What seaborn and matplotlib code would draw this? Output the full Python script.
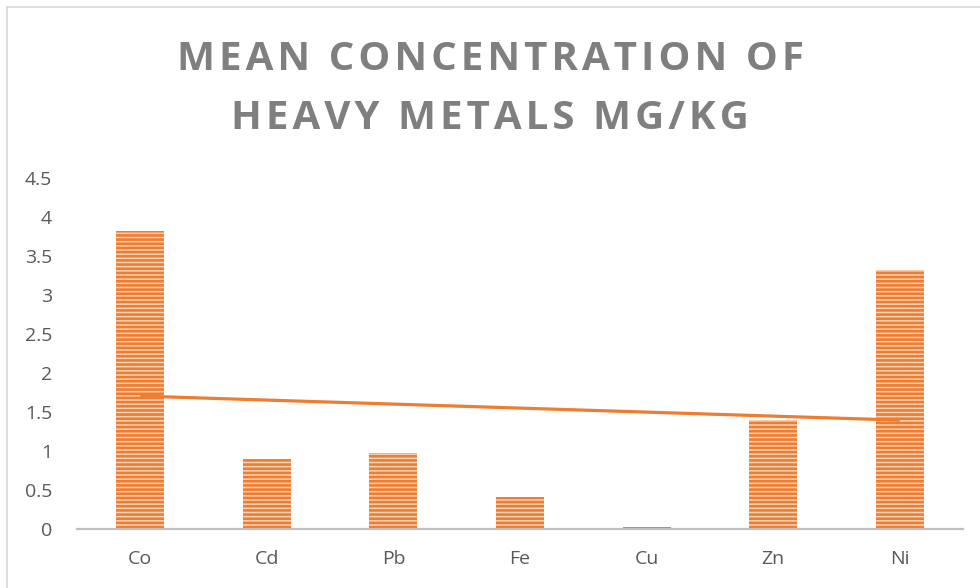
import numpy as np
import pandas as pd
import seaborn as sns
import matplotlib
matplotlib.use("Agg")
import matplotlib.pyplot as plt
from matplotlib.lines import Line2D

metals = ["Co", "Cd", "Pb", "Fe", "Cu", "Zn", "Ni"]
mean_conc = [3.82, 0.90, 0.97, 0.41, 0.03, 1.40, 3.32]
y_ticks = [0, 0.5, 1, 1.5, 2, 2.5, 3, 3.5, 4, 4.5]
y_tick_labels = ["0", "0.5", "1", "1.5", "2", "2.5", "3", "3.5", "4", "4.5"]
title_lines = ["MEAN CONCENTRATION OF", "HEAVY METALS MG/KG"]

sns.set_style("white")
plt.rcParams["font.family"] = ["Open Sans", "DejaVu Sans"]
plt.rcParams["hatch.linewidth"] = 1.9

ORANGE = "#ED7D31"
GRAY_TXT = "#595959"

df = pd.DataFrame({"metal": metals, "value": mean_conc})

fig = plt.figure(figsize=(9.8, 5.88), dpi=100)
ax = fig.add_axes([77 / 980, 1 - 529 / 588, (963 - 77) / 980, (529 - 178) / 588])

sns.barplot(data=df, x="metal", y="value", ax=ax, width=0.38,
            color="#fbd3b6", edgecolor=ORANGE, linewidth=0, hatch="----",
            saturation=1)

# linear trendline across the categories
xs = np.arange(len(metals))
slope, intercept = np.polyfit(xs, mean_conc, 1)
ax.plot(xs, slope * xs + intercept, color=ORANGE, lw=2.3, solid_capstyle="butt")

ax.set_xlim(-0.5, len(metals) - 0.5)
ax.set_ylim(0, 4.5)
ax.set_yticks(y_ticks)
ax.set_yticklabels(y_tick_labels)
ax.set_xlabel("")
ax.set_ylabel("")
for side in ["left", "right", "top"]:
    ax.spines[side].set_visible(False)
ax.spines["bottom"].set_color("#bfbfbf")
ax.spines["bottom"].set_linewidth(1.6)
ax.tick_params(axis="x", length=0, pad=15, labelsize=14, labelcolor=GRAY_TXT)
ax.tick_params(axis="y", length=0, pad=18, labelsize=14, labelcolor=GRAY_TXT)
ax.grid(False)

# title, letter-spaced
for i, line in enumerate(title_lines):
    fig.text(0.5, 1 - (59 + i * 60) / 588, "\u200a".join(line), ha="center",
             va="center", fontsize=29, fontweight="bold", color="#7f7f7f")

# chart area border (top and left edges visible)
fig.add_artist(Line2D([7 / 980, 7 / 980], [0, 1 - 7 / 588], color="#d9d9d9",
                      lw=1.2, transform=fig.transFigure))
fig.add_artist(Line2D([7 / 980, 1], [1 - 7 / 588, 1 - 7 / 588], color="#d9d9d9",
                      lw=1.2, transform=fig.transFigure))

fig.savefig("out.png", dpi=100)
